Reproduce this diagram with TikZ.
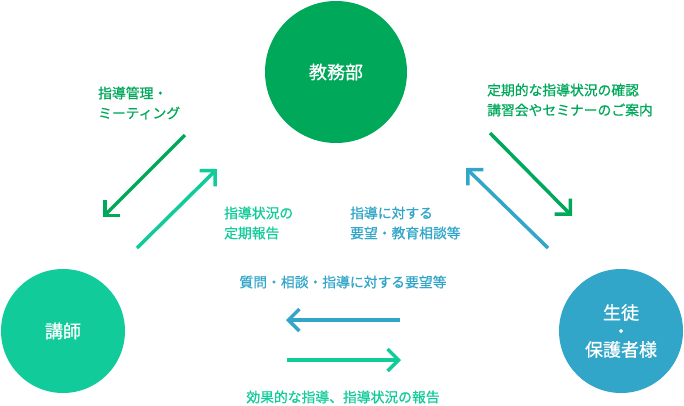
\documentclass[tikz,border=0pt]{standalone}
\usepackage{fontspec}
\newfontfamily\jpfont[FakeBold=0.8]{Noto Sans CJK JP}
\usetikzlibrary{arrows.meta}
\definecolor{kyomugreen}{HTML}{00A85A}
\definecolor{koshigreen}{HTML}{11CC9A}
\definecolor{seitoblue}{HTML}{32A6C8}

\begin{document}
\begin{tikzpicture}[x=1pt, y=-1pt,
    bubble/.style={circle, fill=#1, text=white, inner sep=0pt, align=center, font=\jpfont\fontsize{18}{18.5}\selectfont},
    lbl/.style={text=#1, inner sep=0pt, align=left, font=\jpfont\fontsize{13.8}{20}\selectfont},
    arr/.style={draw=#1, line width=3.5pt, -{Straight Barb[length=11pt,width=22pt]}}
]
\useasboundingbox (0,0) rectangle (684,405);

% circles
\node[bubble=kyomugreen, minimum size=142pt] (kyomu) at (336,72) {教務部};
\node[bubble=koshigreen, minimum size=124pt] (koshi) at (63,331) {講師};
\node[bubble=seitoblue, minimum size=124pt] (seito) at (621,331) {生徒\\・\\保護者様};

% arrow ends
\coordinate (kk-a) at (185,135); \coordinate (kk-b) at (103,217);
\coordinate (ko-a) at (137,248); \coordinate (ko-b) at (217,169);
\coordinate (ks-a) at (490,133); \coordinate (ks-b) at (572,216);
\coordinate (sk-a) at (548,248); \coordinate (sk-b) at (466,168);
\coordinate (sl-a) at (400,320); \coordinate (sl-b) at (286,320);
\coordinate (ls-a) at (287,360); \coordinate (ls-b) at (401,360);

\draw[arr=kyomugreen] (kk-a) -- (kk-b);
\draw[arr=koshigreen] (ko-a) -- (ko-b);
\draw[arr=kyomugreen] (ks-a) -- (ks-b);
\draw[arr=seitoblue] (sk-a) -- (sk-b);
\draw[arr=seitoblue] (sl-a) -- (sl-b);
\draw[arr=koshigreen] (ls-a) -- (ls-b);

% labels
\node[lbl=kyomugreen, anchor=west] (kanri) at (98,103) {指導管理・\\ミーティング};
\node[lbl=koshigreen, anchor=west] (hokoku) at (224,223) {指導状況の\\定期報告};
\node[lbl=kyomugreen, anchor=west] (annai) at (487,100) {定期的な指導状況の確認\\講習会やセミナーのご案内};
\node[lbl=seitoblue, anchor=west] (sodan) at (350,223) {指導に対する\\要望・教育相談等};
\node[lbl=seitoblue] (yobo) at (343,282) {質問・相談・指導に対する要望等};
\node[lbl=koshigreen] (koka) at (343,397) {効果的な指導、指導状況の報告};
\end{tikzpicture}
\end{document}
